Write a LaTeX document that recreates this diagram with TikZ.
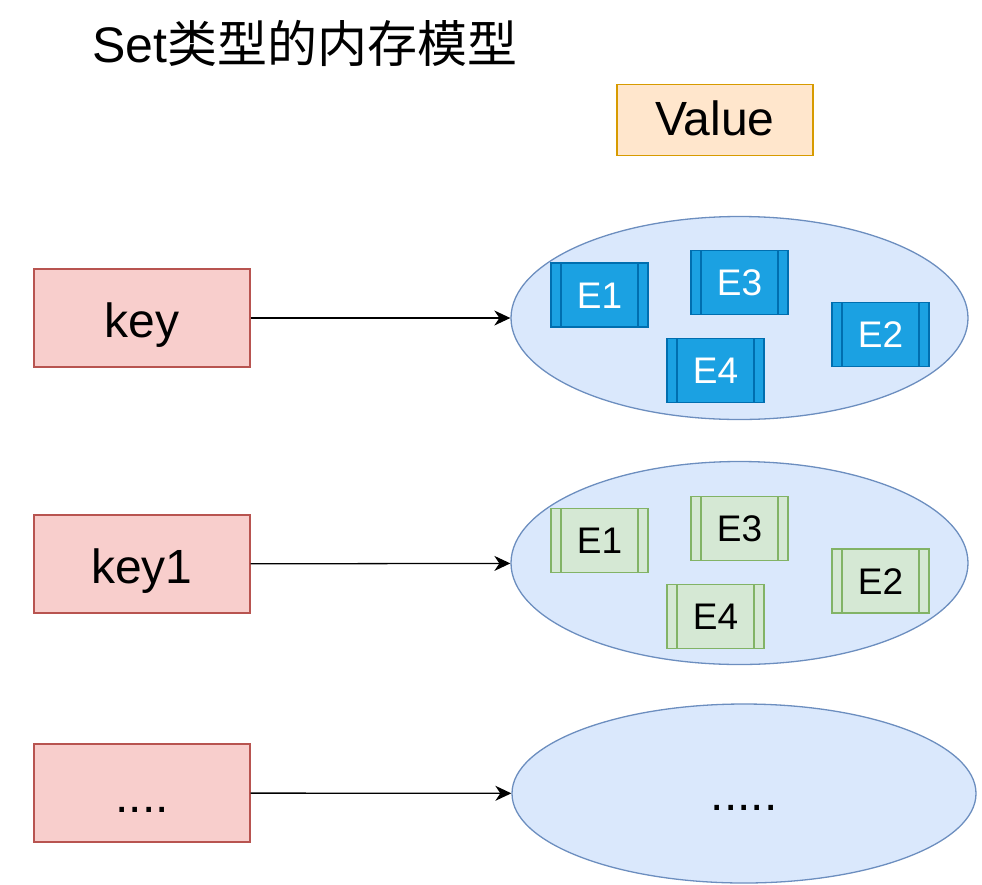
\documentclass[tikz,border=0pt]{standalone}
\usepackage{fontspec}
\setmainfont{Liberation Sans}
\newfontfamily\cjk{Noto Sans CJK SC}
\usepackage{tikz}
\usetikzlibrary{arrows.meta,shapes.geometric,positioning}
\definecolor{keyfill}{HTML}{F8CECC}
\definecolor{keyline}{HTML}{B85450}
\definecolor{valfill}{HTML}{FFE6CC}
\definecolor{valline}{HTML}{D79B00}
\definecolor{setfill}{HTML}{DAE8FC}
\definecolor{setline}{HTML}{6C8EBF}
\definecolor{eblfill}{HTML}{1BA1E2}
\definecolor{eblline}{HTML}{006EAF}
\definecolor{egrfill}{HTML}{D5E8D4}
\definecolor{egrline}{HTML}{82B366}
\tikzstyle{arrow} = [line width=1.3pt,-{Stealth[length=16pt,width=15pt,inset=5pt]}]
\tikzstyle{keybox} = [draw=keyline, fill=keyfill, line width=1.3pt, minimum width=216pt, minimum height=98pt, inner sep=0pt, font=\fontsize{48}{56}\selectfont, text height=40pt, text depth=2pt]
\tikzstyle{setell} = [ellipse, draw=setline, fill=setfill, line width=1.3pt, minimum width=457pt, minimum height=203pt, inner sep=0pt, font=\fontsize{48}{56}\selectfont, text height=40pt, text depth=6pt]
\tikzstyle{elem} = [line width=1.3pt, minimum width=97pt, minimum height=64pt, inner sep=0pt, font=\fontsize{37}{43}\selectfont, text height=30pt, text depth=4pt]
\tikzset{
  sides/.style={path picture={
    \draw[#1, line width=1.3pt] ([xshift=10pt]path picture bounding box.north west) -- ([xshift=10pt]path picture bounding box.south west);
    \draw[#1, line width=1.3pt] ([xshift=-10pt]path picture bounding box.north east) -- ([xshift=-10pt]path picture bounding box.south east);}},
  eblue/.style={elem, draw=eblline, fill=eblfill, text=white, sides=eblline},
  egreen/.style={elem, draw=egrline, fill=egrfill, text=black, sides=egrline}
}

\begin{document}
\begin{tikzpicture}[x=1pt, y=-1pt]
\useasboundingbox (0,0) rectangle (982,884);

% title and legend
\node[anchor=base west, inner sep=0pt, font=\fontsize{50}{58}\selectfont] (title) at (92,62) {Set{\cjk 类型的内存模型}};
\node[draw=valline, fill=valfill, line width=1.3pt, minimum width=196pt, minimum height=71pt, inner sep=0pt, font=\fontsize{48}{56}\selectfont, text height=36pt, text depth=6pt] (value) at (715,120) {Value};

% keys
\node[keybox] (k1) at (142,318) {key};
\node[keybox] (k2) at (142,564) {key1};
\node[keybox] (k3) at (142,793) {....};

% sets
\node[setell] (v1) at (739.5,318) {};
\node[setell] (v2) at (739.5,563) {};
\node[setell, minimum width=464pt, minimum height=179pt] (v3) at (744,793.5) {.....};

% elements
\foreach \n/\dx/\dy in {1/-140/-23, 3/0/-35.5, 2/141/16.5, 4/-24/52.5}
  \node[eblue] (b\n) at ([shift={(\dx,\dy)}]v1.center) {E\n};
\foreach \n/\dx/\dy in {1/-140/-22.5, 3/0/-34.5, 2/141/18, 4/-24/53.5}
  \node[egreen] (g\n) at ([shift={(\dx,\dy)}]v2.center) {E\n};

% links
\draw[arrow] (k1) -- (v1);
\draw[arrow] (k2) -- (v2);
\draw[arrow] (k3) -- (v3);
\end{tikzpicture}
\end{document}
